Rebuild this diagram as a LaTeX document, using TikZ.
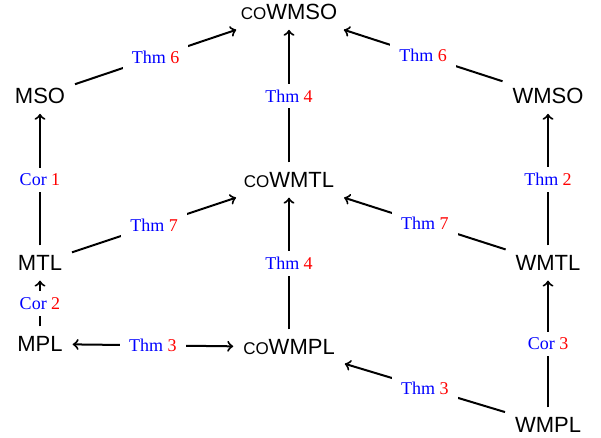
\documentclass[tikz,border=0pt]{standalone}
\usepackage{fontspec}
\setmainfont{Liberation Serif}
\setsansfont{Liberation Sans}
\newcommand{\refto}[2]{\textcolor{blue}{#1}~\textcolor{red}{#2}}
\newcommand{\co}{{\fontsize{8.5}{10}\selectfont CO}}

\begin{document}
\begin{tikzpicture}[
          x = 0.5pt, y = -0.5pt,
          line width = 1pt, >=to
        ]
          \tikzstyle {logic} = [font = \sffamily\fontsize{11}{13}\selectfont, inner sep = 4.5pt]
          \tikzstyle {result} = [fill = white, inner xsep = 4.5pt, inner ysep = 3pt, font = \fontsize{9}{11}\selectfont]
          \useasboundingbox (0,0) rectangle (601,438);
          % place nodes
          \path node (comso) [logic] at (289,12) {\co WMSO};
          \path node (mso) [logic] at (40,96) {MSO};
          \path node (wmso) [logic] at (548,96) {WMSO};
          \path node (comtl) [logic] at (289,180) {\co WMTL};
          \path node (mtl) [logic] at (40,263) {MTL};
          \path node (wmtl) [logic] at (548,263) {WMTL};
          \path node (mpl) [logic] at (40,344) {MPL};
          \path node (compl) [logic] at (289,347) {\co WMPL};
          \path node (wmpl) [logic] at (548,425) {WMPL};
          % place edges
          \draw [->] (mso) -- node [result] {\refto{Thm}{6}} (comso) ;
          \draw [->] (wmso) -- node [result] {\refto{Thm}{6}} (comso) ;
          \draw [->] (comtl) -- node [result] {\refto{Thm}{4}} (comso) ;
          \draw [->] (mtl) -- node [result] {\refto{Cor}{1}} (mso) ;
          \draw [->] (wmtl) -- node [result] {\refto{Thm}{2}} (wmso) ;
          \draw [->] (mtl) -- node [result] {\refto{Thm}{7}} (comtl) ;
          \draw [->] (wmtl) -- node [result] {\refto{Thm}{7}} (comtl) ;
          \draw [->] (compl) -- node [result] {\refto{Thm}{4}} (comtl) ;
          \draw [->] (mpl) -- node [result] {\refto{Cor}{2}} (mtl) ;
          \draw [<->] (mpl) -- node [result] {\refto{Thm}{3}} (compl) ;
          \draw [->] (wmpl) -- node [result] {\refto{Thm}{3}} (compl) ;
          \draw [->] (wmpl) -- node [result] {\refto{Cor}{3}} (wmtl) ;
        \end{tikzpicture}
\end{document}
